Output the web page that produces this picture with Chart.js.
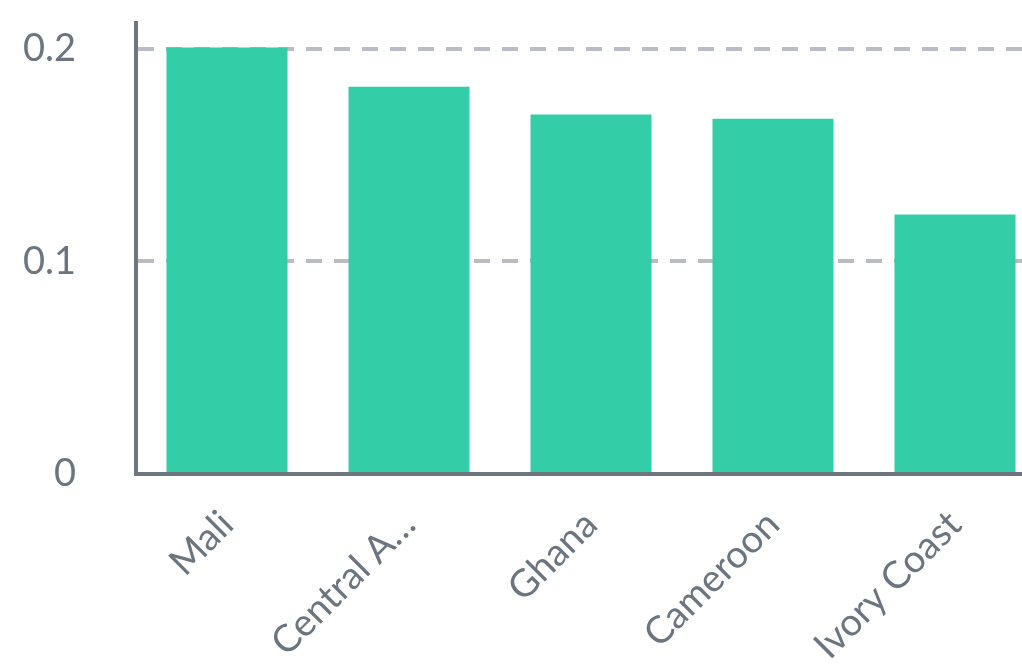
<!DOCTYPE html>
<html>
<head>
<meta charset="utf-8">
<script src="https://cdn.jsdelivr.net/npm/chart.js@4/dist/chart.umd.min.js"></script>
<style>
  html, body { margin: 0; padding: 0; background: #fff; overflow: hidden; }
  #wrap { width: 1046px; height: 666px; }
</style>
</head>
<body>
<div id="wrap"><canvas id="chart" width="1046" height="666"></canvas></div>
<script>
/* =========================
   DATA
========================= */
const countries = ["Mali", "Central African Republic", "Ghana", "Cameroon", "Ivory Coast"];
const values = [0.2005, 0.182, 0.169, 0.167, 0.122];
const yTicks = [0, 0.1, 0.2];

const TEXT = "#6b7580";

function shortLabel(name) {
  return name.length > 12 ? name.slice(0, 9) + "…" : name;
}

/* =========================
   CHART
========================= */
new Chart(document.getElementById("chart"), {
  type: "bar",
  data: {
    labels: countries,
    datasets: [{
      data: values,
      backgroundColor: "#33cea8",
      barPercentage: 1,
      categoryPercentage: 0.665
    }]
  },
  options: {
    responsive: false,
    animation: false,
    layout: { padding: 0 },
    plugins: {
      legend: { display: false },
      tooltip: { enabled: false }
    },
    scales: {
      x: {
        grid: { display: false, drawTicks: false },
        border: { color: "#6e7781", width: 4 },
        ticks: {
          color: TEXT,
          font: { family: "Lato", size: 38 },
          minRotation: 45,
          maxRotation: 45,
          padding: 28,
          autoSkip: false,
          callback: function (v, i) { return shortLabel(countries[i]); }
        },
        afterFit: scale => { scale.height = 192; }
      },
      y: {
        min: 0,
        max: 0.212,
        grid: {
          color: "#b9bcc2",
          lineWidth: 4,
          drawTicks: false
        },
        border: { color: "#6e7781", width: 4, dash: [16, 12] },
        ticks: {
          color: TEXT,
          font: { family: "Lato", size: 38 },
          padding: 60,
          stepSize: 0.1,
          includeBounds: false,
          callback: v => yTicks.includes(Math.round(v * 10) / 10) ? String(Math.round(v * 10) / 10) : ""
        },
        afterFit: scale => {
          scale.width = 136;
          scale.paddingTop = 23;
          scale.paddingBottom = 0;
        }
      }
    }
  }
});
</script>
</body>
</html>
